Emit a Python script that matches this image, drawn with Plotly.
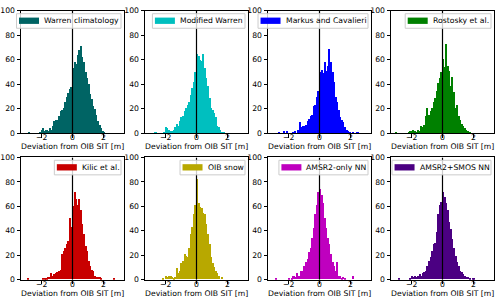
import plotly.graph_objects as go

# ---------------- data (counts per 0.1 m bin, bins from -3.0 to 3.0) ----------------
bin_start = -3.0
bin_width = 0.1

labels = ["Warren climatology", "Modified Warren", "Markus and Cavalieri", "Rostosky et al.",
          "Kilic et al.", "OIB snow", "AMSR2-only NN", "AMSR2+SMOS NN"]

colors = ["#006464", "#00bfbf", "#0000ff", "#008000",
          "#c80000", "#b8a800", "#bf00bf", "#4b0082"]

warren = [0, 0, 1, 0, 0, 0, 0, 0, 0, 1,
          3, 4, 2, 3, 2, 4, 3, 6, 10, 11,
          11, 14, 18, 19, 21, 26, 30, 33, 36, 38,
          53, 58, 57, 64, 68, 71, 62, 58, 50, 45,
          40, 32, 28, 22, 20, 15, 10, 7, 4, 2,
          1, 0, 0, 0, 0, 0, 0, 0, 0, 0]

modified_warren = [0, 0, 0, 1, 1, 0, 0, 0, 0, 1,
                   5, 4, 3, 2, 2, 3, 5, 8, 6, 10,
                   13, 14, 18, 21, 23, 26, 31, 37, 42, 50,
                   65, 63, 60, 59, 65, 53, 45, 39, 29, 21,
                   19, 17, 13, 6, 5, 3, 1, 1, 0, 0,
                   0, 0, 0, 0, 0, 0, 0, 0, 0, 0]

markus = [0, 0, 0, 0, 1, 0, 0, 2, 0, 2,
          0, 0, 0, 1, 2, 0, 3, 9, 5, 6,
          6, 7, 10, 12, 14, 15, 22, 23, 30, 35,
          50, 52, 49, 58, 51, 55, 69, 58, 50, 42,
          30, 26, 19, 13, 11, 9, 5, 3, 2, 1,
          0, 1, 0, 0, 1, 0, 0, 0, 0, 0]

rostosky = [1, 0, 0, 0, 0, 0, 0, 0, 1, 2,
            2, 3, 2, 1, 3, 2, 6, 5, 7, 14,
            21, 15, 18, 21, 26, 29, 35, 41, 45, 50,
            61, 54, 73, 55, 51, 39, 46, 34, 21, 23,
            14, 11, 8, 6, 4, 3, 2, 1, 0, 0,
            0, 0, 0, 0, 0, 0, 0, 0, 0, 0]

kilic = [0, 1, 0, 0, 0, 0, 0, 0, 0, 0,
         0, 1, 1, 1, 2, 2, 5, 3, 4, 5,
         6, 7, 8, 21, 23, 26, 29, 31, 50, 43,
         60, 71, 66, 61, 66, 57, 45, 37, 27, 23,
         15, 11, 8, 7, 3, 2, 2, 2, 1, 0,
         0, 0, 0, 0, 0, 0, 1, 0, 0, 0]

oib_snow = [0, 0, 0, 0, 0, 0, 0, 0, 1, 0,
            3, 2, 3, 3, 2, 1, 2, 9, 5, 7,
            13, 15, 21, 19, 18, 26, 37, 43, 53, 61,
            82, 62, 59, 58, 54, 53, 45, 37, 29, 18,
            13, 10, 7, 5, 3, 0, 2, 0, 0, 0,
            0, 0, 0, 0, 0, 0, 0, 0, 0, 0]

amsr2_nn = [0, 0, 1, 0, 0, 0, 0, 0, 0, 0,
            1, 0, 1, 3, 2, 5, 3, 3, 7, 7,
            11, 14, 17, 22, 26, 34, 42, 53, 61, 71,
            74, 69, 62, 50, 42, 34, 29, 21, 14, 11,
            7, 14, 3, 3, 1, 2, 1, 0, 0, 0,
            0, 3, 0, 0, 0, 0, 0, 0, 0, 0]

amsr2_smos_nn = [0, 0, 1, 0, 0, 0, 0, 0, 0, 1,
                 3, 2, 3, 2, 3, 4, 3, 5, 6, 7,
                 11, 15, 18, 23, 29, 30, 39, 53, 61, 63,
                 71, 67, 62, 57, 47, 41, 33, 26, 19, 14,
                 11, 7, 6, 4, 3, 2, 2, 1, 0, 1,
                 1, 0, 0, 0, 0, 0, 0, 0, 0, 0]

series = [warren, modified_warren, markus, rostosky,
          kilic, oib_snow, amsr2_nn, amsr2_smos_nn]

x_ticks = [-2, 0, 2]
x_tick_text = ["\u22122", "0", "2"]
y_ticks = [0, 20, 40, 60, 80, 100]
x_title = "Deviation from OIB SIT [m]"

# ---------------- layout geometry (pixels) ----------------
W, H = 500, 308
col_left = [21, 145, 268, 391]
col_w = 103
row_top = [7, 158]
row_h = 126
tick_lab_off = 4.6      # below axis bottom (label centre)
title_off = 14.0        # below axis bottom
FS = 7.7
FONT = "DejaVu Sans"

# DejaVu Sans advance widths (em) for legend box sizing
cw = {' ': .318, 'a': .613, 'b': .635, 'c': .550, 'd': .635, 'e': .615, 'f': .352, 'g': .635,
      'h': .634, 'i': .278, 'k': .579, 'l': .278, 'm': .974, 'n': .634, 'o': .612, 'p': .635,
      'r': .411, 's': .521, 't': .392, 'u': .634, 'v': .592, 'w': .818, 'y': .592, 'A': .684,
      'B': .686, 'C': .698, 'K': .656, 'M': .863, 'N': .748, 'O': .787, 'R': .695, 'S': .635,
      'W': .989, 'I': .295, '2': .636, '+': .838, '-': .361, '.': .318}


def text_w(s):
    return sum(cw.get(ch, .6) for ch in s) * FS


def px(x):
    return x / W


def py(y):
    return 1 - y / H


fig = go.Figure()
shapes = []
annotations = []

for k in range(8):
    r, c = divmod(k, 4)
    idx = k + 1
    xa = "x" if idx == 1 else f"x{idx}"
    ya = "y" if idx == 1 else f"y{idx}"
    counts = series[k]
    centers = [bin_start + bin_width * (i + 0.5) for i in range(len(counts))]
    fig.add_trace(go.Bar(x=centers, y=counts, width=bin_width, marker_color=colors[k],
                         marker_line_width=0, name=labels[k], showlegend=False,
                         xaxis=xa, yaxis=ya))
    l = col_left[c]
    t = row_top[r]
    b = t + row_h
    ax_common = dict(showline=True, mirror=True, linecolor="black", linewidth=1,
                     ticks="outside", ticklen=3.5, tickwidth=0.8, tickcolor="black",
                     showgrid=False, zeroline=False,
                     tickfont=dict(family=FONT, size=FS, color="black"))
    fig.layout[f"xaxis{'' if idx == 1 else idx}"] = dict(
        domain=[px(l), px(l + col_w)], anchor=ya, range=[-3.3, 3.3],
        tickvals=x_ticks, showticklabels=False, **ax_common)
    fig.layout[f"yaxis{'' if idx == 1 else idx}"] = dict(
        domain=[py(b), py(t)], anchor=xa, range=[0, 100], tickvals=y_ticks, **ax_common)

    # x tick labels placed on the axis scale
    for tv, tt in zip(x_ticks, x_tick_text):
        annotations.append(dict(xref=xa, yref="paper", x=tv, y=py(b + tick_lab_off),
                                xanchor="center", yanchor="middle", text=tt, showarrow=False,
                                borderpad=0, font=dict(family=FONT, size=FS, color="black")))

    # x axis title
    annotations.append(dict(xref="paper", yref="paper", x=px(l + col_w / 2), y=py(b + title_off),
                            xanchor="center", yanchor="middle", text=x_title, showarrow=False,
                            borderpad=0, font=dict(family=FONT, size=FS, color="black")))

    # vertical zero line
    shapes.append(dict(type="line", xref=xa, yref=ya, x0=0, x1=0, y0=0, y1=100,
                       line=dict(color="black", width=1.2), layer="above"))

    # legend box
    box_r = l + col_w - 3
    txt_r = box_r - 3.5
    txt_l = txt_r - text_w(labels[k])
    h_r = txt_l - 3
    h_l = h_r - 20
    box_l = h_l - 2.5
    box_t = t + 3
    box_b = t + 18
    shapes.append(dict(type="rect", xref="paper", yref="paper",
                       x0=px(box_l), x1=px(box_r), y0=py(box_b), y1=py(box_t),
                       line=dict(color="#cccccc", width=1), fillcolor="rgba(255,255,255,0.8)",
                       layer="above"))
    shapes.append(dict(type="rect", xref="paper", yref="paper",
                       x0=px(h_l), x1=px(h_r), y0=py(box_t + 10.5), y1=py(box_t + 4),
                       line=dict(width=0), fillcolor=colors[k], layer="above"))
    annotations.append(dict(xref="paper", yref="paper", x=px(txt_l), y=py(box_t + 7.5),
                            xanchor="left", yanchor="middle", text=labels[k], showarrow=False,
                            font=dict(family=FONT, size=FS, color="black")))

fig.update_layout(width=W, height=H, margin=dict(l=0, r=0, t=0, b=0),
                  paper_bgcolor="white", plot_bgcolor="white", bargap=0,
                  shapes=shapes, annotations=annotations,
                  font=dict(family=FONT, size=FS, color="black"))

fig.write_html("out.html", config={"displayModeBar": False},
               post_script="document.body.style.margin='0px';")
